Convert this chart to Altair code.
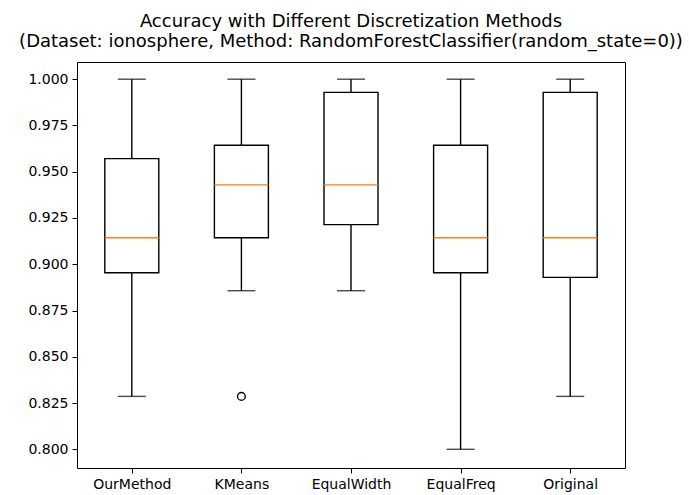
import altair as alt
import pandas as pd

# Cross-validated accuracy summary per discretization method
methods = ["OurMethod", "KMeans", "EqualWidth", "EqualFreq", "Original"]
whisker_low = [0.8286, 0.8857, 0.8857, 0.8000, 0.8286]
q1 = [0.8954, 0.9143, 0.9214, 0.8954, 0.8929]
median = [0.9143, 0.9429, 0.9429, 0.9143, 0.9143]
q3 = [0.9571, 0.9643, 0.9929, 0.9643, 0.9929]
whisker_high = [1.0, 1.0, 1.0, 1.0, 1.0]

outlier_method = ["KMeans"]
outlier_value = [0.8286]

y_ticks = [0.800, 0.825, 0.850, 0.875, 0.900, 0.925, 0.950, 0.975, 1.000]

stats = pd.DataFrame({
    "method": methods,
    "lo": whisker_low,
    "q1": q1,
    "med": median,
    "q3": q3,
    "hi": whisker_high,
})
fliers = pd.DataFrame({"method": outlier_method, "value": outlier_value})

FONT = "DejaVu Sans"
LW = 1.4

x_enc = alt.X(
    "method:N",
    sort=methods,
    scale=alt.Scale(type="point", domain=methods, padding=0.5),
    axis=alt.Axis(title=None, labelAngle=0, labelFont=FONT, labelFontSize=14,
                  labelColor="black", tickColor="black", tickSize=5, tickWidth=1,
                  labelPadding=4, domain=False, grid=False),
)
y_scale = alt.Scale(domain=[0.7899, 1.0093], nice=False, zero=False)
y_axis = alt.Axis(title=None, values=y_ticks, format=".3f", labelFont=FONT,
                  labelFontSize=14, labelColor="black", tickColor="black",
                  tickSize=5, tickWidth=1, labelPadding=4, domain=False, grid=False)

base = alt.Chart(stats)

whiskers = base.mark_rule(color="black", strokeWidth=LW).encode(
    x=x_enc, y=alt.Y("lo:Q", scale=y_scale, axis=y_axis), y2="hi:Q"
)
cap_low = base.mark_tick(color="black", size=28, thickness=LW).encode(
    x=x_enc, y=alt.Y("lo:Q", scale=y_scale)
)
cap_high = base.mark_tick(color="black", size=28, thickness=LW).encode(
    x=x_enc, y=alt.Y("hi:Q", scale=y_scale)
)
boxes = base.mark_bar(size=54, fill="white", stroke="black", strokeWidth=LW).encode(
    x=x_enc, y=alt.Y("q1:Q", scale=y_scale), y2="q3:Q"
)
medians = base.mark_tick(color="#ff7f0e", size=54, thickness=LW, opacity=1).encode(
    x=x_enc, y=alt.Y("med:Q", scale=y_scale)
)
outliers = alt.Chart(fliers).mark_point(
    shape="circle", filled=False, color="black", size=60, strokeWidth=LW, opacity=1
).encode(x=x_enc, y=alt.Y("value:Q", scale=y_scale))

chart = alt.layer(whiskers, cap_low, cap_high, boxes, medians, outliers).properties(
    width=548,
    height=406,
    background="white",
    title=alt.TitleParams(
        text=["Accuracy with Different Discretization Methods",
              "(Dataset: ionosphere, Method: RandomForestClassifier(random_state=0))"],
        font=FONT, fontSize=18, fontWeight="normal", color="black",
        anchor="middle", baseline="bottom", offset=-7, lineHeight=20,
    ),
    autosize=alt.AutoSizeParams(type="none"),
    padding={"left": 77, "top": 62, "right": 64, "bottom": 27},
).configure_view(stroke="black", strokeWidth=1)

chart.save("out.html", embed_options={"renderer": "svg", "actions": False})
